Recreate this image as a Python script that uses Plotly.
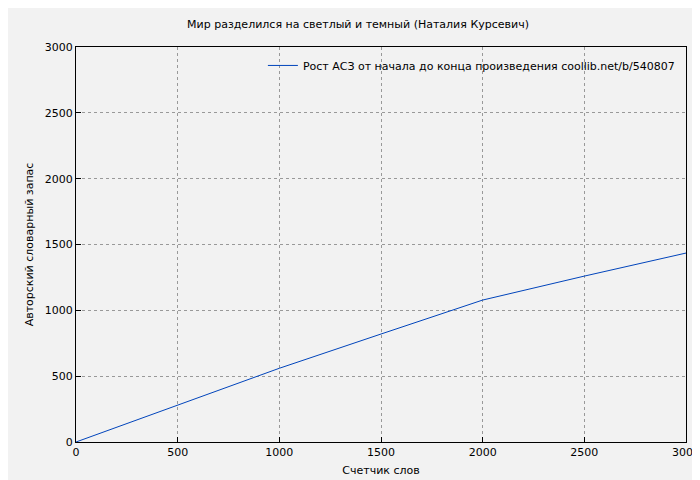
import plotly.graph_objects as go

words = [0, 500, 1000, 1500, 2000, 2500, 3000]
vocab = [0, 280, 560, 820, 1078, 1260, 1435]

fig = go.Figure()
fig.add_trace(go.Scatter(x=words, y=vocab, mode="lines",
                         line=dict(color="#0044bb", width=1),
                         name="Рост АСЗ от начала до конца произведения coollib.net/b/540807"))
fig.update_layout(
    width=700, height=480,
    paper_bgcolor="#f2f2f2", plot_bgcolor="#f2f2f2",
    margin=dict(l=68, r=22, t=39, b=46, autoexpand=False),
    font=dict(family="DejaVu Sans", size=11, color="black"),
    title=dict(text="Мир разделился на светлый и темный (Наталия Курсевич)",
               x=0.5, xanchor="center", y=0.975, font=dict(size=11)),
    showlegend=True,
    legend=dict(x=0.99, y=0.99, xanchor="right", yanchor="top",
                bgcolor="rgba(0,0,0,0)", font=dict(size=11)),
)
ax = dict(showline=True, linecolor="black", mirror=True, ticks="inside",
          tickcolor="black", ticklen=5, showgrid=True, gridcolor="#999999",
          griddash="dot", zeroline=False, automargin=False,
          tickfont=dict(size=11))
fig.update_xaxes(range=[0, 3000], dtick=500, title=dict(text="Счетчик слов", font=dict(size=11), standoff=8), **ax)
fig.update_yaxes(range=[0, 3000], dtick=500, title=dict(text="Авторский словарный запас", font=dict(size=11), standoff=8), **ax)
fig.write_html("out.html")
